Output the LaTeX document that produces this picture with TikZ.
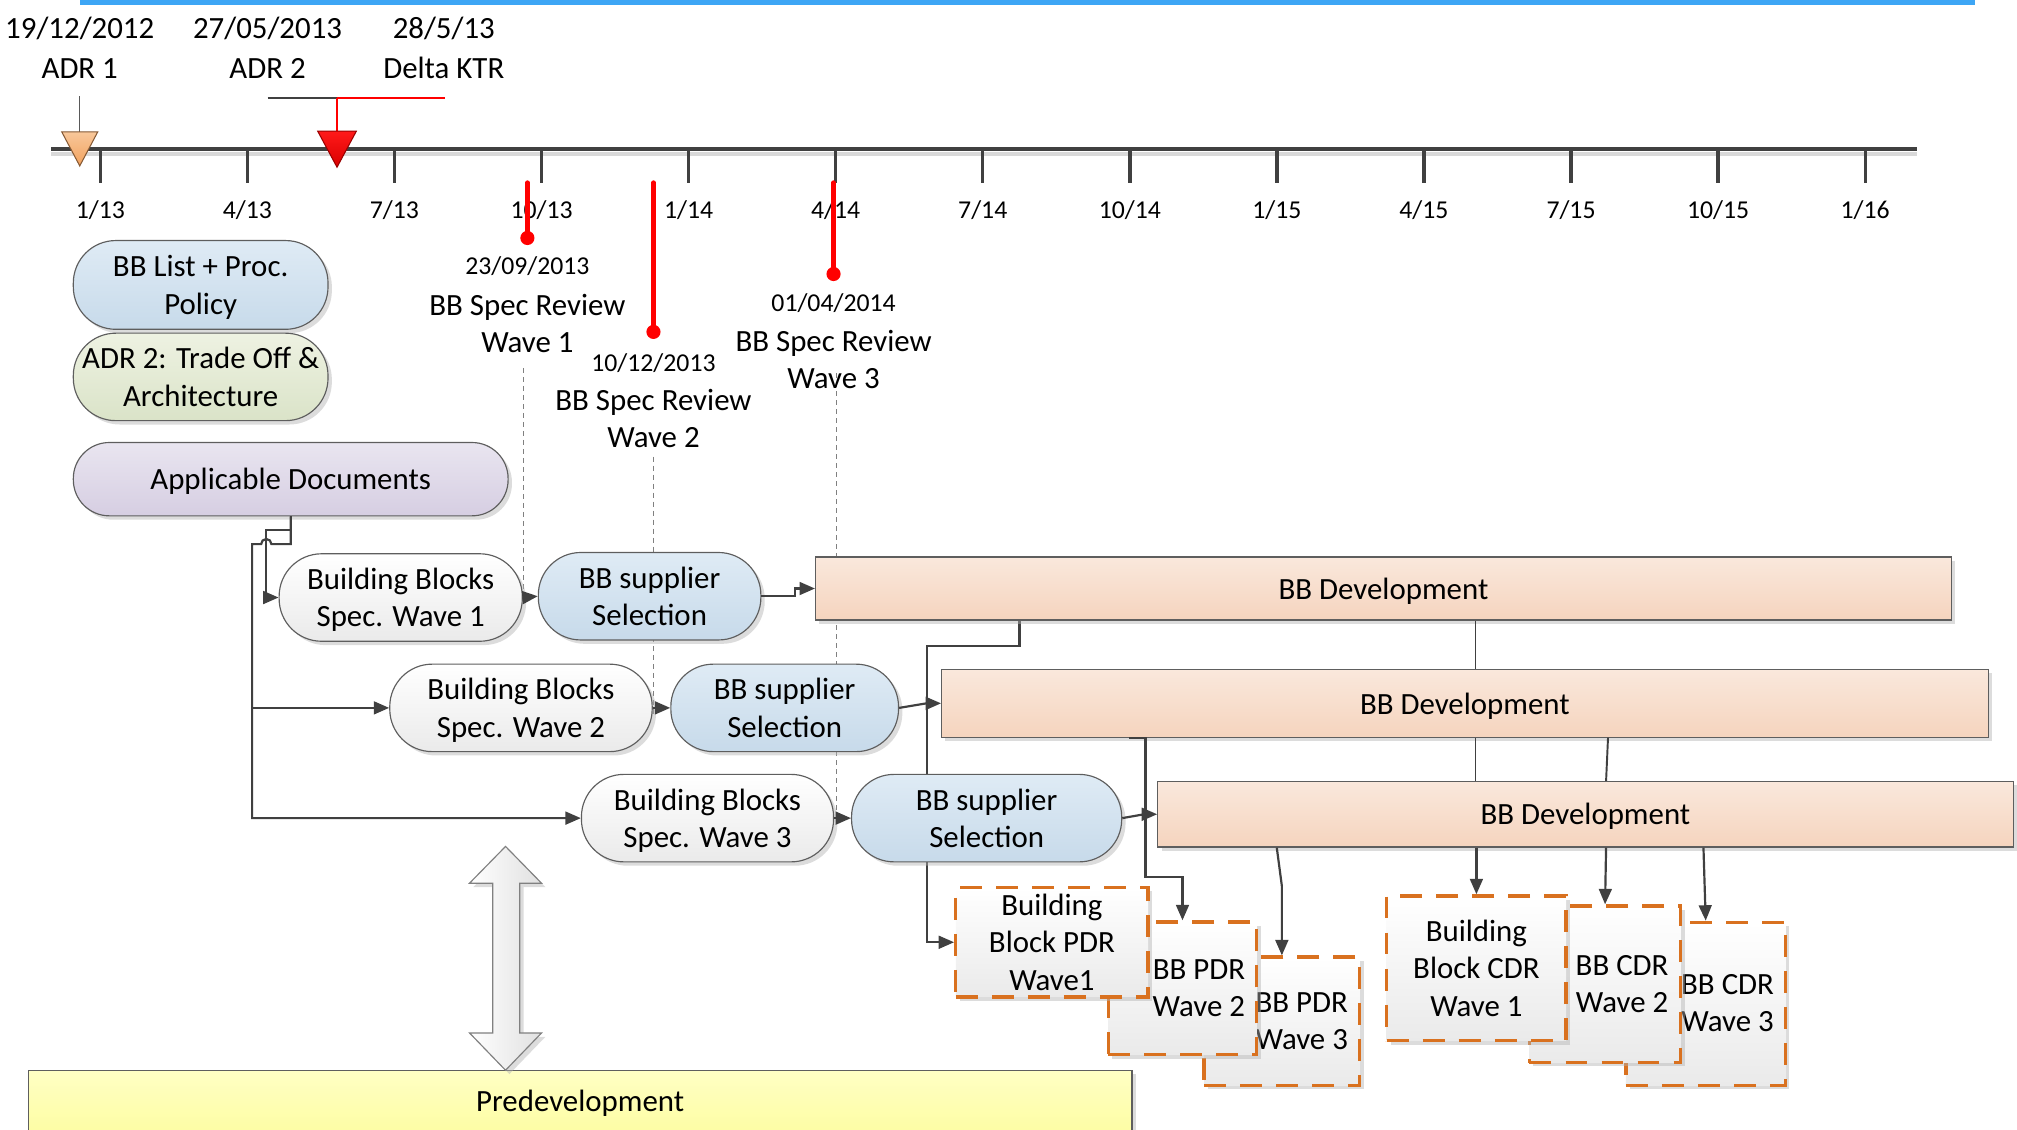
\documentclass[tikz,border=0pt]{standalone}
\usepackage{fontspec}
\setmainfont{Carlito}
\usetikzlibrary{arrows.meta,shadows,backgrounds,calc}

\definecolor{inkgray}{HTML}{404040}
\definecolor{edgegray}{HTML}{5E5E5E}
\definecolor{topbar}{HTML}{3DA6F5}
\definecolor{blueA}{HTML}{DFEBF5}
\definecolor{blueB}{HTML}{C7DAEA}
\definecolor{greenA}{HTML}{EEF2E2}
\definecolor{greenB}{HTML}{DAE3C8}
\definecolor{lavA}{HTML}{E9E5F0}
\definecolor{lavB}{HTML}{D6CEE2}
\definecolor{greyA}{HTML}{FFFFFF}
\definecolor{greyB}{HTML}{EAEAEA}
\definecolor{peachA}{HTML}{FAE8DC}
\definecolor{peachB}{HTML}{F5D4BE}
\definecolor{yellowA}{HTML}{FFFFC4}
\definecolor{yellowB}{HTML}{FDFDA4}
\definecolor{dashorange}{HTML}{D9711F}
\definecolor{msred}{HTML}{FF0000}
\definecolor{adrorangeA}{HTML}{F8C79A}
\definecolor{adrorangeB}{HTML}{F2A25E}

\newcommand\bigtxt{\fontsize{24}{29}\selectfont}
\newcommand\smalltxt{\fontsize{20}{24}\selectfont}

\begin{document}
\begin{tikzpicture}[x=1pt,y=-1pt,
  shadowed/.style={drop shadow={shadow xshift=3pt,shadow yshift=-3pt,fill=black!30,opacity=0.45}},
  base/.style={draw=edgegray,line width=0.9pt,inner sep=0pt,align=center,font=\bigtxt,text depth=0pt},
  pill/.style={base,shadowed,rounded corners=#1},
  pill/.default=33pt,
  bluefill/.style={top color=blueA,bottom color=blueB},
  greenfill/.style={top color=greenA,bottom color=greenB},
  lavfill/.style={top color=lavA,bottom color=lavB},
  greyfill/.style={top color=greyA,bottom color=greyB},
  devbar/.style={base,shadowed,top color=peachA,bottom color=peachB},
  review/.style={shadowed,draw=dashorange,line width=2.6pt,dash pattern=on 17pt off 11pt,
                 top color=greyA,bottom color=greyB,inner sep=0pt,align=center,font=\bigtxt},
  lbl/.style={inner sep=0pt,align=center,font=\bigtxt},
  tinylbl/.style={inner sep=0pt,font=\smalltxt},
  conn/.style={draw=inkgray,line width=1.7pt,-{Triangle[length=12pt,width=10pt]}},
  link/.style={draw=inkgray,line width=1.5pt},
  guide/.style={draw=gray,line width=0.8pt,dash pattern=on 4pt off 3pt},
  msline/.style={draw=msred,line width=3.6pt,line cap=round},
  tickmark/.style={draw=inkgray,line width=2.6pt},
]
\useasboundingbox (0,0) rectangle (1568,878);

% top bar
\fill[topbar] (62,0) rectangle (1535,4);

% ---- timeline ----
\draw[line width=3pt,black!15] (40,119.5) -- (1490,119.5);
\draw[line width=3.4pt,inkgray] (40,116) -- (1490,116);
\foreach \lab [count=\i from 0] in {1/13,4/13,7/13,10/13,1/14,4/14,7/14,10/14,1/15,4/15,7/15,10/15,1/16} {
  \pgfmathsetmacro\tx{78+114.33*\i}
  \draw[tickmark] (\tx,116) -- (\tx,142);
  \node[tinylbl] (tick\i) at (\tx,163) {\lab};
}

% decision reviews above the axis
\node[lbl] (adrAdate) at (62,22) {19/12/2012};
\node[lbl] (adrAname) at (62,53) {ADR 1};
\node[lbl] (adrBdate) at (208,22) {27/05/2013};
\node[lbl] (adrBname) at (208,53) {ADR 2};
\node[lbl] (ktrdate) at (345,22) {28/5/13};
\node[lbl] (ktrname) at (345,53) {Delta KTR};

\draw[line width=1pt,black!65] (62,75) -- (62,102.5);
\draw[top color=adrorangeA,bottom color=adrorangeB,draw=black!45!adrorangeB,line width=0.8pt]
  (48,102.5) -- (76,102.5) -- (62,129) -- cycle;

\draw[line width=1.4pt,inkgray] (208,76) -- (262,76);
\draw[line width=1.4pt,msred] (262,76) -- (346,76);
\draw[line width=1.8pt,msred] (262,76) -- (262,102);
\draw[top color=red!90,bottom color=red!85!black,draw=red!60!black,line width=0.8pt]
  (247,102) -- (277,102) -- (262,130) -- cycle;

% spec review milestones
\draw[msline] (410,142) -- (410,185);
\fill[msred] (410,185) circle (5.5);
\draw[msline] (508,142) -- (508,258);
\fill[msred] (508,258) circle (5.5);
\draw[msline] (648,142) -- (648,213);
\fill[msred] (648,213) circle (5.5);

\node[tinylbl] (revAdate) at (410,207) {23/09/2013};
\node[lbl] (revAname) at (410,251.5) {BB Spec Review\\Wave 1};
\node[tinylbl] (revBdate) at (508,282) {10/12/2013};
\node[lbl] (revBname) at (508,325.5) {BB Spec Review\\Wave 2};
\node[tinylbl] (revCdate) at (648,236) {01/04/2014};
\node[lbl] (revCname) at (648,279.5) {BB Spec Review\\Wave 3};

% ---- process nodes ----
\node[pill,bluefill,minimum width=198pt,minimum height=69pt] (listpol) at (156,221.5) {BB List + Proc.\\Policy};
\node[pill,greenfill,minimum width=198pt,minimum height=68pt] (adrtrade) at (156,293) {ADR 2: Trade Off \&\\Architecture};
\node[pill=28pt,lavfill,minimum width=338pt,minimum height=57pt] (appdocs) at (226,372.5) {Applicable Documents};

\node[pill,greyfill,minimum width=189pt,minimum height=68pt] (specA) at (311.5,464.5) {Building Blocks\\Spec. Wave 1};
\node[pill,bluefill,minimum width=173pt,minimum height=68pt] (suppA) at (505,463.5) {BB supplier\\Selection};
\node[devbar,minimum width=883pt,minimum height=49pt] (devA) at (1075.5,457.5) {BB Development};

\node[pill,greyfill,minimum width=204pt,minimum height=68pt] (specB) at (405,550.3) {Building Blocks\\Spec. Wave 2};
\node[pill,bluefill,minimum width=177pt,minimum height=68pt] (suppB) at (610,550.3) {BB supplier\\Selection};
\node[devbar,minimum width=813.5pt,minimum height=52.5pt] (devB) at (1138.75,546.75) {BB Development};

\node[pill,greyfill,minimum width=196pt,minimum height=68pt] (specC) at (550,636) {Building Blocks\\Spec. Wave 3};
\node[pill,bluefill,minimum width=210pt,minimum height=68pt] (suppC) at (767,636) {BB supplier\\Selection};
\node[devbar,minimum width=665pt,minimum height=51pt] (devC) at (1232.5,633) {BB Development};

% review boxes, back to front
\node[review,minimum width=121pt,minimum height=99.6pt] (pdrC) at (996.5,793.8) {};
\node[lbl] (pdrCtxt) at (1012,794) {BB PDR\\Wave 3};
\node[review,minimum width=115.5pt,minimum height=103.3pt] (pdrB) at (919.25,768.35) {};
\node[lbl] (pdrBtxt) at (932,768) {BB PDR\\Wave 2};
\node[review,minimum width=149.5pt,minimum height=85pt] (pdrA) at (817.75,732.5) {Building\\Block PDR\\Wave1};

\node[review,minimum width=124pt,minimum height=126.6pt] (cdrC) at (1326,780.3) {};
\node[lbl] (cdrCtxt) at (1343,780) {BB CDR\\Wave 3};
\node[review,minimum width=117.5pt,minimum height=121.7pt] (cdrB) at (1247.75,765.15) {};
\node[lbl] (cdrBtxt) at (1261,765) {BB CDR\\Wave 2};
\node[review,minimum width=139.5pt,minimum height=112.5pt] (cdrA) at (1147.75,752.75) {Building\\Block CDR\\Wave 1};

% predevelopment band and link arrow
\node[base,shadowed,top color=yellowA,bottom color=yellowB,minimum width=858pt,minimum height=48pt] (predev) at (451,856) {Predevelopment};
\path[draw=black!50,line width=0.9pt,left color=white,right color=black!12,shadowed]
  (393,658) -- (421,686.6) -- (404,686.6) -- (404,803) -- (421,803) -- (393,832)
  -- (365,803) -- (383,803) -- (383,686.6) -- (365,686.6) -- cycle;

% ---- connectors ----
\coordinate (busA) at (207,412);
\coordinate (trunk) at (196,423);
\draw[conn] (appdocs.south) |- (busA) |- (specA.west);
\draw[conn] (appdocs.south) -- (appdocs.south |- trunk) -- (211,423)
  arc[start angle=0,end angle=-180,radius=4] -- (trunk) |- (specC.west);
\draw[conn] (trunk |- specB.west) -- (specB.west);

\draw[conn] (specA.east) -- (suppA.west);
\draw[conn] (suppA.east) -- ++(26,0) |- (devA.west);
\draw[conn] (specB.east) -- (suppB.west);
\draw[conn] (suppB.east) -- ++(21,-3.5) -- (devB.west);
\draw[conn] (specC.east) -- (suppC.west);
\draw[conn] (suppC.east) -- ++(17,-3) -- (devC.west);

\draw[link] ($(devA.south west)+(513.5,0)$) -- ($(devB.north west)+(415.5,0)$);
\draw[link] ($(devB.south west)+(415.5,0)$) -- ($(devC.north west)+(247.5,0)$);
\draw[link] ($(devB.south west)+(518.5,0)$) -- ($(devC.north west)+(349,0)$);

\draw[conn] ($(devB.south west)+(146,0)$) -- ++(13,0) -- ++(0,108) -| (pdrB.north);
\draw[conn] ($(devC.south west)+(93,0)$) -- ($(pdrC.north)+(0,-54)$) -- (pdrC.north);
\draw[conn] (cdrA.north |- devC.south) -- (cdrA.north);
\draw[conn] ($(devC.south west)+(349,0)$) -- (cdrB.north);
\draw[conn] ($(devC.south west)+(424.7,0)$) -- (cdrC.north);

\begin{scope}[on background layer]
  \draw[guide] (407,286) -- (407,458);
  \draw[guide] (508,355) -- (508,555);
  \draw[guide] (650,290) -- (650,630);
  \draw[conn] ($(devA.south west)+(159,0)$) -- ++(0,20) -- ++(-72,0) |- (pdrA.west);
\end{scope}
\end{tikzpicture}
\end{document}
